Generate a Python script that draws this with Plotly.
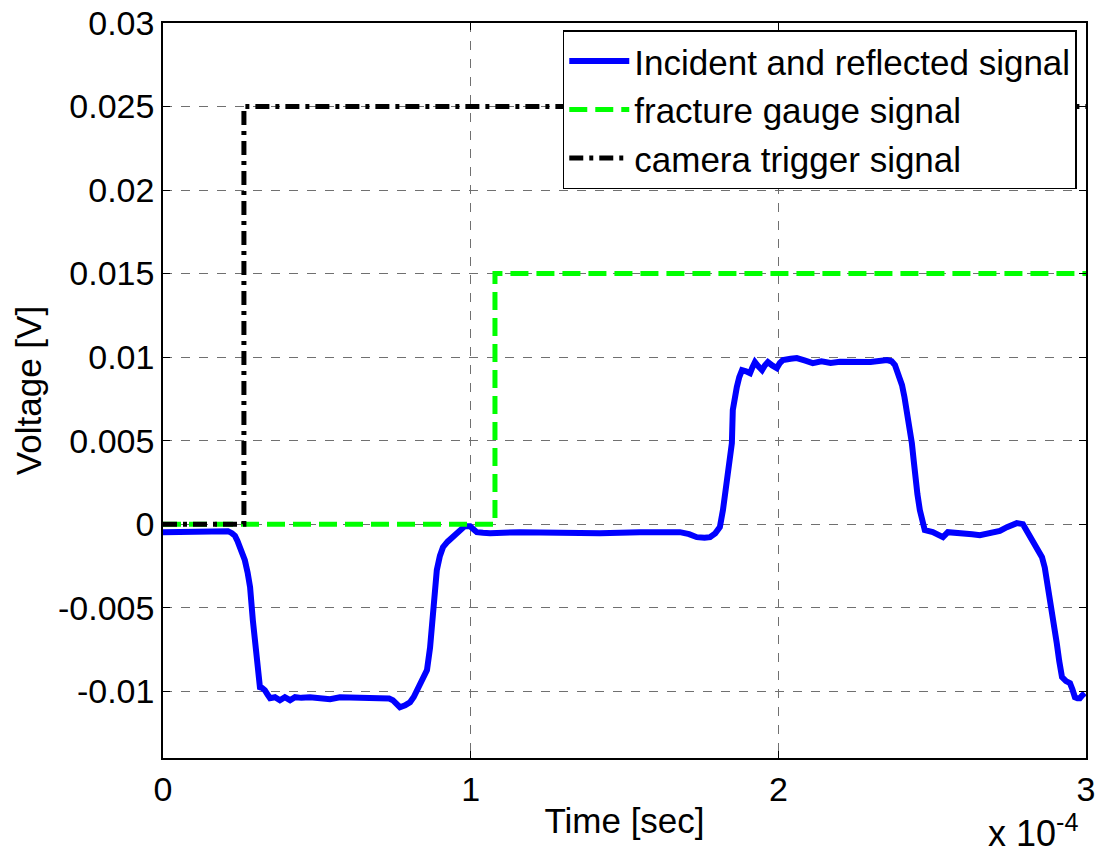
import plotly.graph_objects as go

# Time in units of 1e-4 s
sig_t = [0.0, 0.120, 0.211, 0.224, 0.234, 0.242, 0.250, 0.260, 0.266, 0.275, 0.283, 0.292,
         0.299, 0.305, 0.310, 0.315, 0.322, 0.331, 0.340, 0.348,
         0.364, 0.380, 0.396, 0.413, 0.429, 0.450, 0.478, 0.510, 0.543, 0.575, 0.620, 0.680,
         0.715, 0.735, 0.747, 0.760, 0.770, 0.787, 0.803,
         0.815, 0.825, 0.842, 0.858, 0.868, 0.877, 0.884, 0.890, 0.900, 0.910, 0.925, 0.942,
         0.960, 0.981, 0.998, 1.010, 1.020, 1.040, 1.063, 1.160, 1.290,
         1.420, 1.550, 1.680, 1.710, 1.735, 1.760, 1.778, 1.795, 1.810, 1.820, 1.828, 1.836,
         1.843, 1.849, 1.852, 1.858, 1.865, 1.873, 1.882,
         1.895, 1.908, 1.916, 1.924, 1.935, 1.947, 1.956, 1.966, 1.980, 1.995, 2.005, 2.015,
         2.040, 2.060, 2.085, 2.112, 2.140, 2.170, 2.200, 2.223, 2.260, 2.300, 2.353, 2.368,
         2.379, 2.390, 2.402, 2.410, 2.418, 2.426, 2.434, 2.440, 2.444, 2.452, 2.460, 2.468,
         2.476, 2.502, 2.535, 2.551, 2.575, 2.600, 2.630, 2.655, 2.697, 2.720, 2.743,
         2.760, 2.775, 2.795, 2.810, 2.827, 2.842, 2.857, 2.866, 2.873, 2.881, 2.889, 2.897,
         2.905, 2.913, 2.922, 2.935, 2.948, 2.956, 2.964, 2.972, 2.980, 2.988, 2.996]
sig_v = [-0.00048, -0.00048, -0.00042, -0.00054, -0.00070, -0.00100, -0.00138, -0.00175,
         -0.00216, -0.00290, -0.00377, -0.00575,
         -0.00680, -0.00772, -0.00880, -0.00976, -0.00980, -0.00994, -0.01020, -0.01042,
         -0.01036, -0.01054, -0.01036, -0.01054, -0.01036, -0.01040, -0.01036, -0.01042,
         -0.01048, -0.01036, -0.01036, -0.01036,
         -0.01036, -0.01044, -0.01054, -0.01080, -0.01096, -0.01085, -0.01066,
         -0.01035, -0.00994, -0.00940, -0.00874, -0.00740, -0.00575, -0.00420, -0.00275,
         -0.00190, -0.00138, -0.00105, -0.00078, -0.00045, -0.00012, -0.00012, -0.00035,
         -0.00048, -0.00052, -0.00054, -0.00048, -0.00054,
         -0.00054, -0.00048, -0.00048, -0.00060, -0.00078, -0.00082, -0.00078, -0.00055,
         -0.00018, 0.00084, 0.00180, 0.00281,
         0.00385, 0.00485, 0.00683, 0.00760, 0.00820, 0.00880, 0.00922,
         0.00915, 0.00904, 0.00940, 0.00970, 0.00945, 0.00922, 0.00950, 0.00970, 0.00950,
         0.00934, 0.00965, 0.00982,
         0.00990, 0.00994, 0.00980, 0.00964, 0.00975, 0.00965, 0.00972, 0.00970, 0.00975,
         0.00970, 0.00982, 0.00975,
         0.00952, 0.00900, 0.00832, 0.00760, 0.00683, 0.00590, 0.00485, 0.00380, 0.00281,
         0.00180, 0.00084, 0.00020,
         -0.00036, -0.00048, -0.00078, -0.00048, -0.00050, -0.00054, -0.00060, -0.00066,
         -0.00054, -0.00040, -0.00018,
         -0.00005, 0.00006, 0.0, -0.00050, -0.00108, -0.00150, -0.00198, -0.00260, -0.00335,
         -0.00430, -0.00533, -0.00620,
         -0.00713, -0.00820, -0.00916, -0.00940, -0.00952, -0.00990, -0.01036, -0.01042,
         -0.01042, -0.01025, -0.01012]

gauge_t = [0.0, 1.079, 1.079, 3.0]
gauge_v = [0.0, 0.0, 0.015, 0.015]

trig_t = [0.0, 0.263, 0.263, 3.0]
trig_v = [0.0, 0.0, 0.025, 0.025]

x_tickvals = [0, 1, 2, 3]
x_ticktext = ["0", "1", "2", "3"]
y_tickvals = [-0.01, -0.005, 0, 0.005, 0.01, 0.015, 0.02, 0.025, 0.03]
y_ticktext = ["-0.01", "-0.005", "0", "0.005", "0.01", "0.015", "0.02", "0.025", "0.03"]

scale = 1e-4
FONT = "Liberation Sans, Arial, sans-serif"

fig = go.Figure()
fig.add_trace(go.Scatter(x=[t * scale for t in sig_t], y=sig_v, mode="lines",
                         name="Incident and reflected signal",
                         line=dict(color="#0000ff", width=6)))
fig.add_trace(go.Scatter(x=[t * scale for t in gauge_t], y=gauge_v, mode="lines",
                         name="fracture gauge signal",
                         line=dict(color="#00ff00", width=5, dash="18px,8px")))
fig.add_trace(go.Scatter(x=[t * scale for t in trig_t], y=trig_v, mode="lines",
                         name="camera trigger signal",
                         line=dict(color="#000000", width=5, dash="14px,6px,4px,6px")))

fig.update_layout(
    width=1102, height=859,
    margin=dict(l=163, r=16, t=23, b=101, autoexpand=False),
    paper_bgcolor="white", plot_bgcolor="white",
    font=dict(family=FONT, size=34, color="black"),
    showlegend=True,
    legend=dict(x=0.99, y=0.99, xanchor="right", yanchor="top",
                bgcolor="white", bordercolor="black", borderwidth=1.5,
                font=dict(size=35), tracegroupgap=0, itemwidth=60),
    xaxis=dict(range=[0, 3 * scale], tickvals=[v * scale for v in x_tickvals],
               ticktext=x_ticktext, showgrid=True, gridcolor="#707070",
               griddash="dash", gridwidth=1, showline=True, linecolor="black",
               linewidth=1.5, mirror="ticks", ticks="inside", ticklen=7,
               tickcolor="black", zeroline=False, automargin=False,
               title=dict(text="Time [sec]", standoff=2, font=dict(size=35))),
    yaxis=dict(range=[-0.014, 0.03], tickvals=y_tickvals, ticktext=y_ticktext,
               showgrid=True, gridcolor="#707070", griddash="dash", gridwidth=1,
               showline=True, linecolor="black", linewidth=1.5, mirror="ticks",
               ticks="inside", ticklen=7, tickcolor="black", zeroline=False,
               automargin=False,
               title=dict(text="Voltage [V]", standoff=6, font=dict(size=35))),
    annotations=[dict(text="x 10<sup>-4</sup>", xref="paper", yref="paper",
                      x=0.994, y=-0.133, xanchor="right", yanchor="bottom",
                      showarrow=False, font=dict(size=36))],
)

fig.write_html("out.html")
